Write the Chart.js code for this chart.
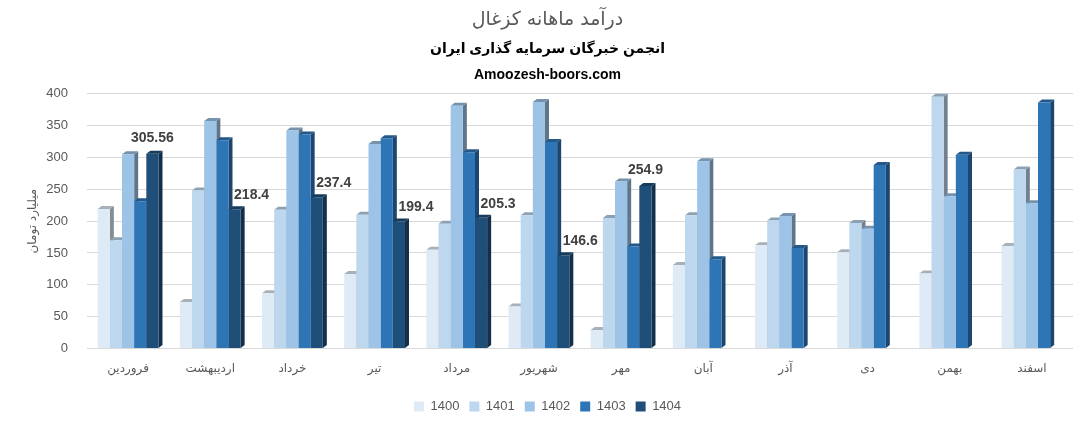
<!DOCTYPE html>
<html>
<head>
<meta charset="utf-8">
<script src="https://cdn.jsdelivr.net/npm/chart.js@4.4.1/dist/chart.umd.min.js"></script>
<style>
  html, body { margin: 0; background: #fff; }
  #wrap { width: 1087px; height: 427px; }
</style>
</head>
<body>
<div id="wrap"><canvas id="chart"></canvas></div>
<script>
// months (Persian calendar)
const months = ['فروردین', 'اردیبهشت', 'خرداد', 'تیر', 'مرداد', 'شهریور', 'مهر', 'آبان', 'آذر', 'دی', 'بهمن', 'اسفند'];
const years = ['1400', '1401', '1402', '1403', '1404'];

// billion toman
const v1400 = [219, 73, 87, 117, 155, 66, 29, 131, 162, 151, 118, 161];
const v1401 = [170, 248, 218, 210, 196, 209, 205, 209, 201, 197, 395, 281];
const v1402 = [305, 357, 342, 321, 381, 387, 262, 294, 208, 188, 239, 228];
const v1403 = [231, 327, 336, 330, 308, 324, 160, 140, 158, 288, 304, 386];
const v1404 = [305.56, 218.4, 237.4, 199.4, 205.3, 146.6, 254.9, null, null, null, null, null];

const yTicks = [0, 50, 100, 150, 200, 250, 300, 350, 400];

const seriesColors = ['#DEEBF7', '#BDD7EE', '#9DC3E6', '#2E75B6', '#1F4E79'];
const DX = 4, DY = 3;

function shade(hex, f) {
    const n = parseInt(hex.slice(1), 16);
    const r = Math.round(((n >> 16) & 255) * f);
    const g = Math.round(((n >> 8) & 255) * f);
    const b = Math.round((n & 255) * f);
    return `rgb(${r},${g},${b})`;
}

// fake 3D: side + cap of each bar, drawn before the front faces
const depth3d = {
    id: 'depth3d',
    beforeDatasetsDraw(chart) {
        const ctx = chart.ctx;
        const metas = chart.getSortedVisibleDatasetMetas();
        ctx.save();
        for (let i = 0; i < chart.data.labels.length; i++) {
            metas.forEach(meta => {
                const val = chart.data.datasets[meta.index].data[i];
                if (val == null) return;
                const { x, y, base, width } = meta.data[i].getProps(['x', 'y', 'base', 'width'], true);
                const l = x - width / 2, r = x + width / 2;
                const c = seriesColors[meta.index];
                ctx.fillStyle = shade(c, 0.6);
                ctx.beginPath();
                ctx.moveTo(r, y); ctx.lineTo(r + DX, y - DY);
                ctx.lineTo(r + DX, base - DY); ctx.lineTo(r, base);
                ctx.closePath(); ctx.fill();
                ctx.fillStyle = shade(c, 0.75);
                ctx.beginPath();
                ctx.moveTo(l, y); ctx.lineTo(l + DX, y - DY);
                ctx.lineTo(r + DX, y - DY); ctx.lineTo(r, y);
                ctx.closePath(); ctx.fill();
            });
        }
        ctx.restore();
    }
};

// value labels on the 1404 series only
const lastLabels = {
    id: 'lastLabels',
    afterDatasetsDraw(chart) {
        const ctx = chart.ctx;
        const idx = years.length - 1;
        const meta = chart.getDatasetMeta(idx);
        const prev = chart.data.datasets[idx - 1].data;
        ctx.save();
        ctx.font = 'bold 14px "Liberation Sans", Arial, sans-serif';
        ctx.fillStyle = '#404040';
        ctx.textAlign = 'center';
        ctx.textBaseline = 'middle';
        v1404.forEach((v, i) => {
            if (v == null) return;
            const bar = meta.data[i];
            const shifted = prev[i] > v;
            ctx.fillText(String(v), bar.x + (shifted ? 17 : 0), bar.y - (shifted ? 14 : 16));
        });
        ctx.restore();
    }
};

const series = [v1400, v1401, v1402, v1403, v1404];

new Chart(document.getElementById('chart'), {
    type: 'bar',
    data: {
        labels: months,
        datasets: years.map((yr, k) => ({
            label: yr,
            data: series[k],
            backgroundColor: seriesColors[k],
            borderWidth: 0,
            barPercentage: 1,
            categoryPercentage: 0.74
        }))
    },
    options: {
        responsive: true,
        maintainAspectRatio: false,
        animation: false,
        layout: { padding: { left: 22, right: 14, top: 0, bottom: 4 } },
        plugins: {
            title: {
                display: true,
                text: 'درآمد ماهانه کزغال',
                color: '#595959',
                font: { size: 19, family: '"DejaVu Sans", sans-serif', weight: 'normal' },
                padding: { top: 9, bottom: 4 }
            },
            subtitle: {
                display: true,
                text: ['انجمن خبرگان سرمایه گذاری ایران', 'Amoozesh-boors.com'],
                color: '#000',
                font: { size: 14, family: '"Liberation Sans Narrow", "Liberation Sans", "DejaVu Sans", sans-serif', weight: 'bold', lineHeight: 1.85 },
                padding: { top: 0, bottom: 6 }
            },
            legend: {
                position: 'bottom',
                labels: {
                    boxWidth: 10,
                    boxHeight: 10,
                    color: '#595959',
                    font: { size: 13, family: '"Liberation Sans", Arial, sans-serif' }
                }
            },
            tooltip: { enabled: false }
        },
        scales: {
            x: {
                grid: { display: false },
                border: { display: false },
                afterFit: axis => { axis.height += 9; },
                ticks: {
                    color: '#595959',
                    padding: 5,
                    font: { size: 12, family: '"DejaVu Sans", sans-serif' }
                }
            },
            y: {
                min: 0,
                max: 400,
                afterBuildTicks: axis => { axis.ticks = yTicks.map(v => ({ value: v })); },
                afterFit: axis => { axis.width = 65; },
                grid: { color: '#D9D9D9', drawTicks: false },
                border: { display: false },
                ticks: {
                    color: '#595959',
                    padding: 19,
                    font: { size: 13, family: '"Liberation Sans", Arial, sans-serif' }
                },
                title: {
                    display: true,
                    text: 'میلیارد تومان',
                    color: '#595959',
                    padding: { top: 4, bottom: 0 },
                    font: { size: 12, family: '"DejaVu Sans", sans-serif' }
                }
            }
        }
    },
    plugins: [depth3d, lastLabels]
});
</script>
</body>
</html>
